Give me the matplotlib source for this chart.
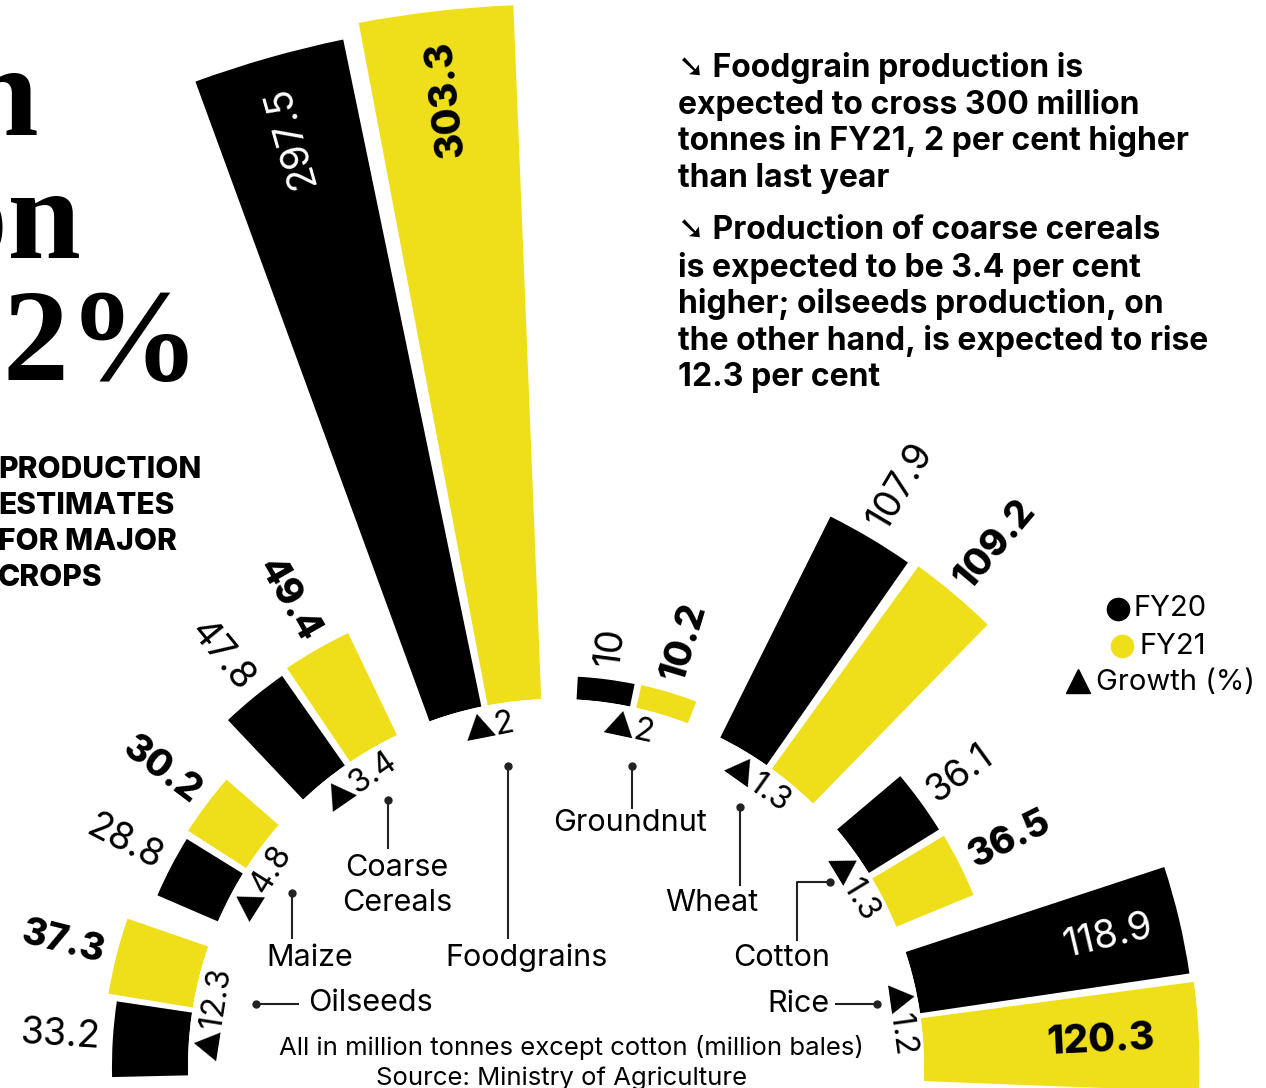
import numpy as np
import matplotlib
matplotlib.use('Agg')
import matplotlib.pyplot as plt
from matplotlib.lines import Line2D

plt.rcParams['font.family'] = ['Inter', 'DejaVu Sans']

# crops, counter-clockwise from the right-hand side
crops = ['Rice', 'Cotton', 'Wheat', 'Groundnut', 'Foodgrains', 'Coarse Cereals', 'Maize', 'Oilseeds']
fy20 = [118.9, 36.1, 107.9, 10, 297.5, 47.8, 28.8, 33.2]
fy21 = [120.3, 36.5, 109.2, 10.2, 303.3, 49.4, 30.2, 37.3]
growth = [1.2, 1.3, 1.3, 2, 2, 3.4, 4.8, 12.3]

notes = [
    ['\u2798 Foodgrain production is',
     'expected to cross 300 million',
     'tonnes in FY21, 2 per cent higher',
     'than last year'],
    ['\u2798 Production of coarse cereals',
     'is expected to be 3.4 per cent',
     'higher; oilseeds production, on',
     'the other hand, is expected to rise',
     '12.3 per cent'],
]

YELLOW = '#EFDF1B'
W, H = 1266, 1088


def fx(x):
    return x / W


def fy(y):
    return 1 - y / H


fig = plt.figure(figsize=(W / 100, H / 100), dpi=100)

# polar axes, centre sits just above the bottom edge of the figure
cx, cy = 556, 1067
R_PX = 1100
PX_PER_UNIT = 2.29
R0_PX = 368
rorigin = -R0_PX / PX_PER_UNIT
rmax = rorigin + R_PX / PX_PER_UNIT

ax = fig.add_axes([fx(cx - R_PX), fy(cy + R_PX), 2 * R_PX / W, 2 * R_PX / H],
                  projection='polar')
ax.set_rlim(0, rmax)
ax.set_rorigin(rorigin)
ax.axis('off')
ax.patch.set_alpha(0)

n = len(crops)
centres = 8.0 + 23.3 * np.arange(n)
offs = np.full(n, 4.7)
widths = np.full(n, 8.4)
offs[[0, -1]] = 5.3
widths[[0, -1]] = 9.8
th21 = centres - offs
th20 = centres + offs

ax.bar(np.deg2rad(th21), fy21, width=np.deg2rad(widths), bottom=0, color=YELLOW, linewidth=0)
ax.bar(np.deg2rad(th20), fy20, width=np.deg2rad(widths), bottom=0, color='black', linewidth=0)

# labels that sit inside the two longest pairs: (FY20 inset, FY21 inset)
inside = {'Foodgrains': (13, 13), 'Rice': (12, 19)}
gap = 5.5

for name, t20, t21, v20, v21 in zip(crops, th20, th21, fy20, fy21):
    for k, (t, v, bold) in enumerate(((t20, v20, False), (t21, v21, True))):
        label = f'{v:g}'
        weight = 'heavy' if bold else 'normal'
        if name in inside:
            ax.text(np.deg2rad(t), v - inside[name][k], label, rotation=t,
                    rotation_mode='anchor', ha='right', va='center', fontsize=28,
                    fontweight=weight, color='black' if bold else 'white')
        elif t < 90:
            ax.text(np.deg2rad(t), v + gap, label, rotation=t, rotation_mode='anchor',
                    ha='left', va='center', fontsize=27, fontweight=weight)
        else:
            ax.text(np.deg2rad(t), v + gap, label, rotation=t - 180, rotation_mode='anchor',
                    ha='right', va='center', fontsize=27, fontweight=weight)

# growth markers just inside the ring
r_growth = 346 / PX_PER_UNIT + rorigin
for c, g in zip(centres, growth):
    ax.text(np.deg2rad(c), r_growth, f'\u25B2{g:g}', rotation=c - 90, rotation_mode='anchor',
            ha='center', va='center', fontsize=23)

# crop names with leader lines
line_kw = dict(color='#222222', lw=1.5, transform=fig.transFigure)
dot_kw = dict(color='#222222', marker='o', markersize=5, linestyle='none', transform=fig.transFigure)


def leader(xs, ys):
    fig.add_artist(Line2D([fx(x) for x in xs], [fy(y) for y in ys], **line_kw))
    fig.add_artist(Line2D([fx(xs[0])], [fy(ys[0])], **dot_kw))


lab_kw = dict(fontsize=22, va='center')
leader([632, 632], [766, 808])
fig.text(fx(630), fy(823), 'Groundnut', ha='center', **lab_kw)
leader([508, 508], [766, 938])
fig.text(fx(527), fy(958), 'Foodgrains', ha='center', **lab_kw)
leader([740, 740], [807, 885])
fig.text(fx(712), fy(903), 'Wheat', ha='center', **lab_kw)
leader([388, 388], [800, 848])
fig.text(fx(397), fy(868), 'Coarse', ha='center', **lab_kw)
fig.text(fx(397), fy(903), 'Cereals', ha='center', **lab_kw)
leader([292, 292], [893, 938])
fig.text(fx(310), fy(958), 'Maize', ha='center', **lab_kw)
leader([830, 797, 797], [882, 882, 940])
fig.text(fx(782), fy(958), 'Cotton', ha='center', **lab_kw)
leader([877, 836], [1004, 1004])
fig.text(fx(829), fy(1004), 'Rice', ha='right', **lab_kw)
leader([256, 298], [1004, 1004])
fig.text(fx(308), fy(1003), 'Oilseeds', ha='left', **lab_kw)

fig.text(fx(571), fy(1047), 'All in million tonnes except cotton (million bales)',
         ha='center', va='center', fontsize=18.5)
fig.text(fx(562), fy(1078), 'Source: Ministry of Agriculture',
         ha='center', va='center', fontsize=18.5)

# legend
fig.add_artist(Line2D([fx(1118)], [fy(609)], marker='o', markersize=16, color='black',
                      linestyle='none', transform=fig.transFigure))
fig.add_artist(Line2D([fx(1122)], [fy(646)], marker='o', markersize=16, color=YELLOW,
                      linestyle='none', transform=fig.transFigure))
fig.add_artist(Line2D([fx(1078)], [fy(681)], marker='^', markersize=17, color='black',
                      linestyle='none', transform=fig.transFigure))
fig.text(fx(1134), fy(609), 'FY20', ha='left', va='center', fontsize=21)
fig.text(fx(1139), fy(646), 'FY21', ha='left', va='center', fontsize=21)
fig.text(fx(1096), fy(683), 'Growth (%)', ha='left', va='center', fontsize=21)

# headline, cut by the left edge
serif = dict(family='Liberation Serif', fontweight='bold', fontsize=95, va='baseline')
fig.text(fx(39), fy(135), 'Foodgrain', ha='right', **serif)
fig.text(fx(81), fy(258), 'production', ha='right', **serif)
fig.text(fx(2), fy(380), '2%', ha='left', **serif)

for i, line in enumerate(['PRODUCTION', 'ESTIMATES', 'FOR MAJOR', 'CROPS']):
    fig.text(fx(-2), fy(470 + 36 * i), line, ha='left', va='center',
             fontsize=21.5, fontweight='heavy')

# notes on the right
y = 68
for para in notes:
    for line in para:
        fig.text(fx(678), fy(y), line, ha='left', va='center', fontsize=23, fontweight='bold')
        y += 36.7
    y += 16

fig.savefig('out.png', dpi=100)
